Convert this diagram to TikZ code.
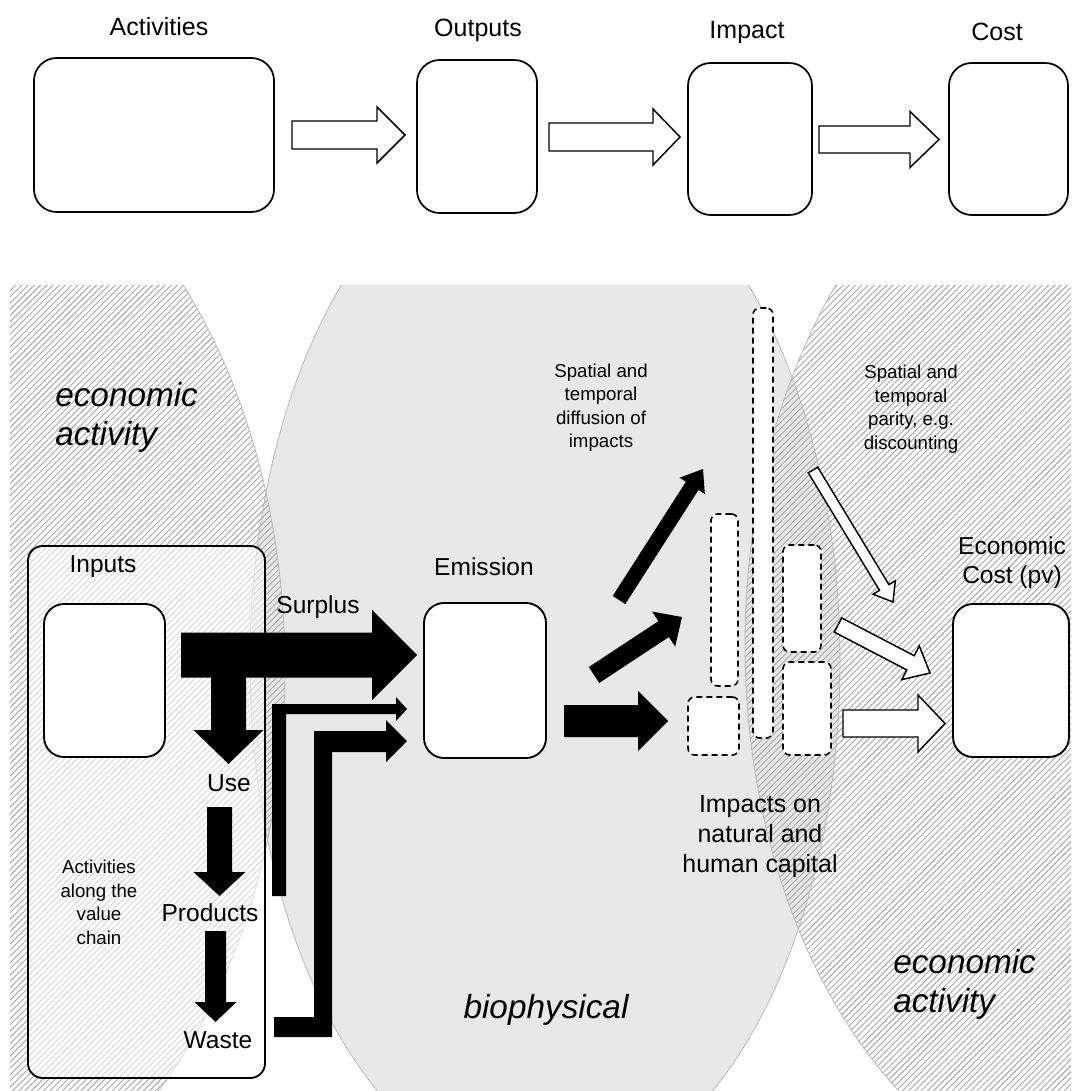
\documentclass[tikz,border=0pt]{standalone}
\usepackage{fontspec}
\setmainfont{Liberation Sans}
\usetikzlibrary{calc,patterns.meta}
% block arrow: style, tail, tip, shaft half width, head half width, head length (px)
\newcommand{\blockarrow}[6]{%
  \coordinate (bac) at ($(#3)!#6*0.75pt!(#2)$);
  \path[#1] ($(#2)!#4*0.75pt!90:(#3)$) -- ($(bac)!#4*0.75pt!90:(#3)$)
    -- ($(bac)!#5*0.75pt!90:(#3)$) -- (#3) -- ($(bac)!#5*0.75pt!-90:(#3)$)
    -- ($(bac)!#4*0.75pt!-90:(#3)$) -- ($(#2)!#4*0.75pt!-90:(#3)$) -- cycle;
}
\tikzset{
  topbox/.style={draw=black, line width=1.3pt, rounded corners=17pt, inner sep=0pt, outer sep=0pt},
  solidbox/.style={draw=black, line width=1.4pt, fill=white, rounded corners=15pt, inner sep=0pt, outer sep=0pt},
  dashbox/.style={draw=black, line width=1.2pt, dash pattern=on 4.5pt off 3pt, fill=white, rounded corners=5pt, inner sep=0pt, outer sep=0pt},
  hollow/.style={draw=black, fill=white, line width=1.1pt, line join=miter},
  blackarrow/.style={fill=black},
  hatch/.style={pattern={Lines[angle=45,distance=3.3pt,line width=0.7pt]}, pattern color=black!34},
  realmline/.style={draw=black!28, line width=0.6pt},
  lbl/.style={font=\fontsize{18.4}{22}\selectfont, inner sep=0pt},
  toplbl/.style={font=\fontsize{18.75}{22}\selectfont, inner sep=0pt},
  note/.style={font=\fontsize{14}{17.6}\selectfont, align=center, inner sep=0pt},
  realm/.style={font=\fontsize{25}{29.25}\selectfont\itshape, align=left, inner sep=0pt},
}
\begin{document}
\begin{tikzpicture}[x=0.75pt, y=-0.75pt]
\useasboundingbox (0,0) rectangle (1071,1091);

% ---------- top row ----------
\node[toplbl] (tActivities) at (159,27) {Activities};
\node[toplbl] (tOutputs) at (478,30) {Outputs};
\node[toplbl] (tImpact) at (747,32) {Impact};
\node[toplbl] (tCost) at (997,32) {Cost};

\node[topbox, minimum width=180pt, minimum height=115.5pt] (act) at (154,135) {};
\node[topbox, minimum width=90pt, minimum height=114.75pt] (out) at (477,136.5) {};
\node[topbox, minimum width=93pt, minimum height=114pt] (imp) at (750,139) {};
\node[topbox, minimum width=89.25pt, minimum height=114pt] (cost) at (1008.5,139) {};

\coordinate (a1t) at (292,135);   \coordinate (a1h) at (405,135);
\coordinate (a2t) at (549,137);   \coordinate (a2h) at (680,137);
\coordinate (a3t) at (819,139.5); \coordinate (a3h) at (939,139.5);
\blockarrow{hollow}{a1t}{a1h}{14}{28}{28}
\blockarrow{hollow}{a2t}{a2h}{14}{28}{27}
\blockarrow{hollow}{a3t}{a3h}{13.5}{28}{29}

% ---------- background realms ----------
\begin{scope}
  \clip (10,285) rectangle (1071,1091);
  \path[fill=black!9] (545,662) ellipse [x radius=295, y radius=521];
  \path[hatch] (-87,670) ellipse [x radius=372, y radius=560];
  \path[hatch] (1125,645) ellipse [x radius=380, y radius=555];
  \path[realmline] (545,662) ellipse [x radius=295, y radius=521];
  \path[realmline] (-87,670) ellipse [x radius=372, y radius=560];
  \path[realmline] (1125,645) ellipse [x radius=380, y radius=555];
\end{scope}

\node[realm, anchor=west] (econL) at (55,417) {economic\\activity};
\node[realm, anchor=west] (econR) at (893,984.5) {economic\\activity};
\node[realm] (bio) at (546,1010) {biophysical};

% ---------- value chain ----------
\node[draw=black, line width=1.4pt, fill=white, fill opacity=0.55, rounded corners=11pt,
      inner sep=0pt, minimum width=177.75pt, minimum height=399pt] (chain) at (146.5,812) {};
\node[solidbox, minimum width=90.75pt, minimum height=114.75pt] (inputs) at (104.5,680.5) {};
\node[solidbox, minimum width=91.5pt, minimum height=116.25pt] (emission) at (485,680.5) {};
\node[solidbox, minimum width=87pt, minimum height=114.75pt] (econ) at (1011,680.5) {};

% impacts (dashed)
\node[dashbox, minimum width=38.25pt, minimum height=43.5pt] (impA) at (713.5,726) {};
\node[dashbox, minimum width=20.25pt, minimum height=129pt] (impB) at (724.5,600) {};
\node[dashbox, minimum width=15pt, minimum height=322.5pt] (impC) at (763,523) {};
\node[dashbox, minimum width=28.5pt, minimum height=80.25pt] (impD) at (802,598.5) {};
\node[dashbox, minimum width=36pt, minimum height=69.75pt] (impE) at (807,708.5) {};

% ---------- labels ----------
\node[lbl] (lInputs) at (103,567) {Inputs};
\node[lbl] (lSurplus) at (318,607) {Surplus};
\node[lbl] (lEmission) at (484,567) {Emission};
\node[lbl] (lUse) at (229,783) {Use};
\node[lbl] (lProducts) at (210,913) {Products};
\node[lbl] (lWaste) at (218,1040) {Waste};
\node[lbl, align=center, font=\fontsize{18.4}{21.75}\selectfont] (lEcon) at (1012,562.5) {Economic\\Cost (pv)};
\node[lbl, align=center, font=\fontsize{18.7}{22.5}\selectfont] (lImpacts) at (760,836.5) {Impacts on\\natural and\\human capital};
\node[note] (nChain) at (99,902.5) {Activities\\along the\\value\\chain};
\node[note] (nDiff) at (601,407.5) {Spatial and\\temporal\\diffusion of\\impacts};
\node[note] (nParity) at (911,409) {Spatial and\\temporal\\parity, e.g.\\discounting};

% ---------- black arrows ----------
\coordinate (sT) at (181,655);   \coordinate (sH) at (417,655);
\blockarrow{blackarrow}{sT}{sH}{22.5}{45}{45}
\coordinate (uT) at (228.5,677); \coordinate (uH) at (228.5,764);
\blockarrow{blackarrow}{uT}{uH}{17.5}{35}{34}
\coordinate (pT) at (219.5,807); \coordinate (pH) at (219.5,896);
\blockarrow{blackarrow}{pT}{pH}{12.5}{26}{24}
\coordinate (wT) at (215.5,931); \coordinate (wH) at (215.5,1022);
\blockarrow{blackarrow}{wT}{wH}{10.5}{21}{20}

% bent arrows into Emission
\path[blackarrow] (272,896) -- (272,704) -- (396,704) -- (396,697) -- (407,709)
  -- (396,721) -- (396,714) -- (286,714) -- (286,896) -- cycle;
\path[blackarrow] (274,1017) -- (314,1017) -- (314,731) -- (386,731) -- (386,720)
  -- (407,741) -- (386,762) -- (386,752) -- (332,752) -- (332,1037) -- (274,1037) -- cycle;

% from Emission
\coordinate (eT) at (564,721);   \coordinate (eH) at (668,721);
\blockarrow{blackarrow}{eT}{eH}{16}{30}{30}
\coordinate (mT) at (594,675);   \coordinate (mH) at (682,617);
\blockarrow{blackarrow}{mT}{mH}{9.5}{21}{22}
\coordinate (dT) at (619,600);   \coordinate (dH) at (703,469);
\blockarrow{blackarrow}{dT}{dH}{7.5}{15}{20}

% ---------- hollow arrows to economic cost ----------
\coordinate (h1T) at (813,470);  \coordinate (h1H) at (893,602);
\blockarrow{hollow}{h1T}{h1H}{5.5}{13}{17}
\coordinate (h2T) at (838,625);  \coordinate (h2H) at (930,673);
\blockarrow{hollow}{h2T}{h2H}{8}{19}{22}
\coordinate (h3T) at (843,723.5); \coordinate (h3H) at (945,723.5);
\blockarrow{hollow}{h3T}{h3H}{13.5}{28.5}{27}
\end{tikzpicture}
\end{document}
